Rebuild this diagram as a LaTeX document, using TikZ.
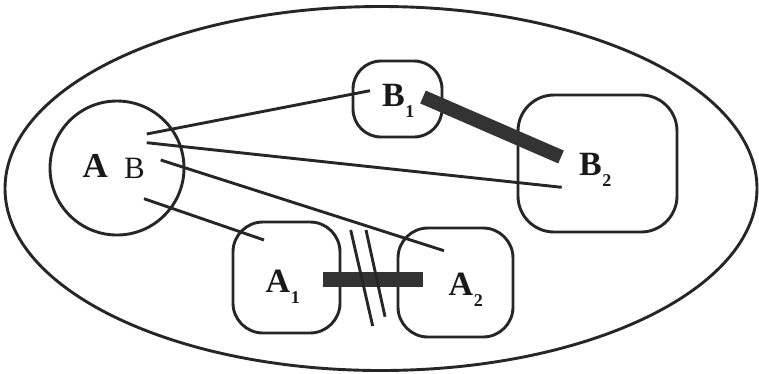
\documentclass[tikz,border=0pt]{standalone}
\usepackage{fontspec}
\setmainfont{Liberation Serif}
\usetikzlibrary{shapes.geometric}
\newcommand{\lbl}[2]{\fontsize{34}{34}\selectfont\bfseries #1\hspace{0.5pt}\raisebox{-11pt}{\fontsize{18}{18}\selectfont\bfseries #2}}
\begin{document}
\begin{tikzpicture}[x=1pt,y=-1pt,
  outline/.style={draw=black!85,line width=2.9pt},
  roundbox/.style={outline,rectangle,rounded corners=#1,inner sep=0pt},
  link/.style={draw=black!85,line width=2.9pt},
  bar/.style={draw=black!80,line width=#1},
  txt/.style={inner sep=0pt,anchor=base west,text=black!90}]
\useasboundingbox (0,0) rectangle (759,373);
% outer ellipse
\node[outline,ellipse,minimum width=752pt,minimum height=364pt,inner sep=0pt] (world) at (381,188.5) {};
% AB circle
\node[outline,circle,minimum size=134pt,inner sep=0pt] (AB) at (117,168) {};
\node[txt] (tA) at (82.5,177.5) {\fontsize{35}{35}\selectfont\bfseries A};
\node[txt] (tB) at (124,178) {\fontsize{31}{31}\selectfont B};
% boxes
\node[roundbox=28pt,minimum width=89pt,minimum height=76pt] (B1) at (397.5,99) {};
\node[roundbox=36pt,minimum width=159pt,minimum height=137pt] (B2) at (597.5,163.5) {};
\node[roundbox=30pt,minimum width=107pt,minimum height=111pt] (A1) at (286.5,277.5) {};
\node[roundbox=30pt,minimum width=115pt,minimum height=109pt] (A2) at (455.5,282.5) {};
% labels
\node[txt] (lB1) at (382,106.5) {\lbl{B}{1}};
\node[txt] (lB2) at (579,175.5) {\lbl{B}{2}};
\node[txt] (lA1) at (265.5,292.5) {\lbl{A}{1}};
\node[txt] (lA2) at (448.5,295.5) {\lbl{A}{2}};
% connector end points
\coordinate (p1) at (146.7,134);
\coordinate (q1) at (370,90.7);
\coordinate (p2) at (146.7,142.7);
\coordinate (q2) at (561.7,187.3);
\coordinate (p3) at (160.7,160);
\coordinate (q3) at (444,250.7);
\coordinate (p4) at (144,198.7);
\coordinate (q4) at (264,240);
\draw[link] (p1) -- (q1);
\draw[link] (p2) -- (q2);
\draw[link] (p3) -- (q3);
\draw[link] (p4) -- (q4);
% thick bars
\coordinate (b1s) at (423,97);
\coordinate (b1e) at (561,157);
\draw[bar=14pt] (b1s) -- (b1e);
\coordinate (a1s) at (323,279.5);
\coordinate (a1e) at (423,279.5);
\draw[bar=15pt] (a1s) -- (a1e);
% break marks
\coordinate (m1s) at (350.7,230);
\coordinate (m1e) at (372.7,326);
\coordinate (m2s) at (366,230);
\coordinate (m2e) at (385,316.7);
\draw[link] (m1s) -- (m1e);
\draw[link] (m2s) -- (m2e);
\end{tikzpicture}
\end{document}
